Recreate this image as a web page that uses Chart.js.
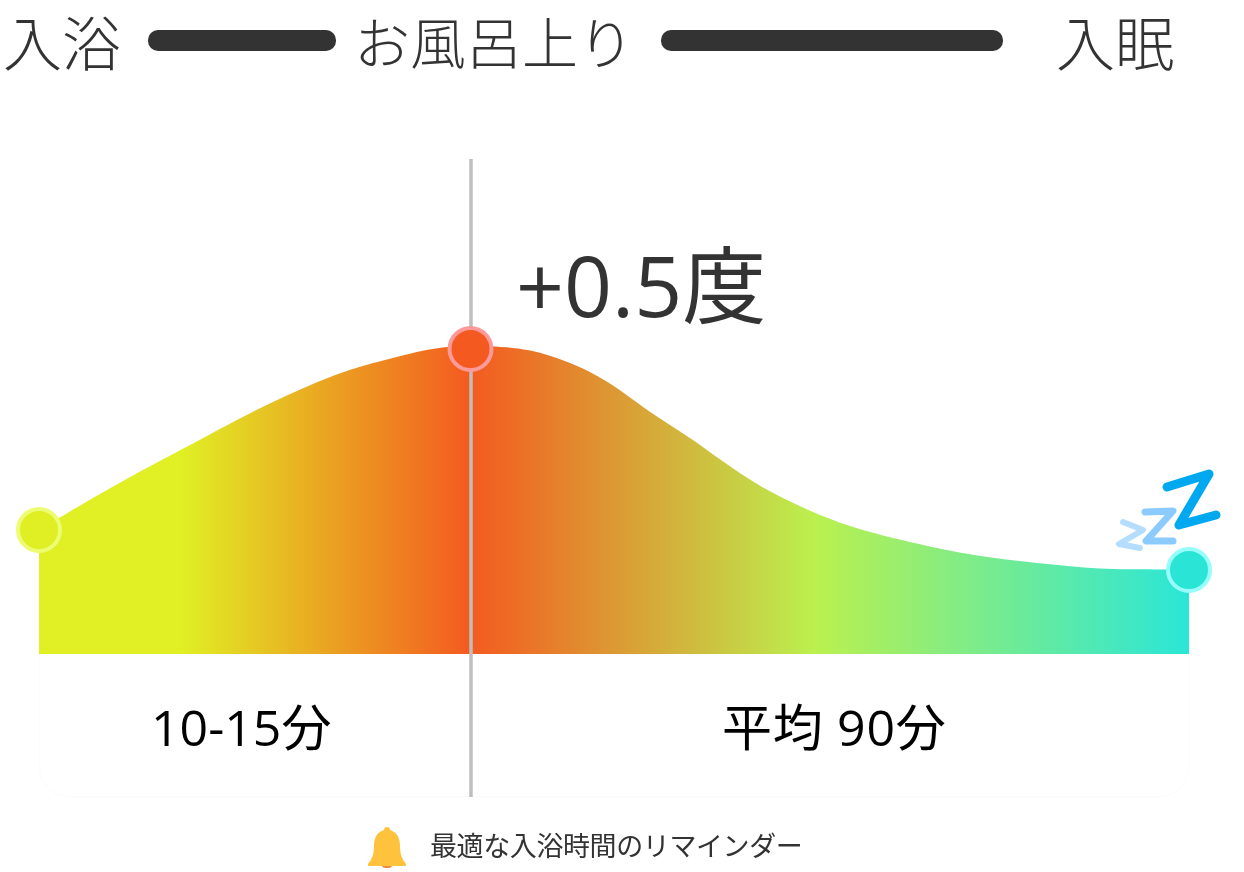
<!DOCTYPE html>
<html lang="ja">
<head>
<meta charset="utf-8">
<title>入浴と入眠</title>
<script src="https://cdn.jsdelivr.net/npm/chart.js@4/dist/chart.umd.min.js"></script>
<style>
html, body { margin: 0; padding: 0; background: #fff; }
#wrap { position: relative; width: 1244px; height: 872px; overflow: hidden; font-family: "Open Sans", "Noto Sans CJK JP", sans-serif; }
#myChart { position: absolute; left: 0; top: 0; }
.t { position: absolute; white-space: nowrap; line-height: 1; color: #333; font-weight: 400; }
.bar { position: absolute; height: 21px; top: 30px; background: #333; border-radius: 10px; }
#panel { position: absolute; left: 39px; top: 654px; width: 1148px; height: 142px; border: 1px solid #fafcfc; border-top: 0; border-radius: 0 0 30px 30px; }
svg { position: absolute; left: 0; top: 0; }
</style>
</head>
<body>
<div id="wrap">
  <div id="panel"></div>
  <canvas id="myChart" width="1244" height="872"></canvas>

  <span class="t" style="left:3px;top:14px;font-size:59px;font-weight:300">入浴</span>
  <div class="bar" style="left:148px;width:188px"></div>
  <span class="t" style="left:354px;top:14px;font-size:56px;font-weight:300">お風呂上り</span>
  <div class="bar" style="left:661px;width:342px"></div>
  <span class="t" style="left:1056px;top:14px;font-size:59px;font-weight:300">入眠</span>

  <span class="t" style="left:516px;top:243px;font-size:84px">+0.5度</span>
  <span class="t" style="left:151px;top:702px;font-size:50px;color:#000">10-15分</span>
  <span class="t" style="left:722px;top:702px;font-size:50px;letter-spacing:0.7px;color:#000">平均 90分</span>
  <span class="t" style="left:430px;top:832px;font-size:27px;letter-spacing:-0.4px">最適な入浴時間のリマインダー</span>

  <svg width="1244" height="872" fill="none" stroke-linecap="round" stroke-linejoin="round">
    <polyline points="1123,522 1143,530 1119,544 1140,548" stroke="#b5ddff" stroke-width="6"/>
    <polyline points="1145,512 1173,511 1146,541 1173,541" stroke="#8ccbff" stroke-width="7"/>
    <polyline points="1167,487 1209,474 1179,525 1216,515" stroke="#00a8f0" stroke-width="9"/>
    <path d="M387 827c2 0 3 1 3 3 7 2 10 8 10 16 0 8 2 13 6 18 0 1 0 2-1 2h-36c-1 0-1-1-1-2 4-5 6-10 6-18 0-8 3-14 10-16 0-2 1-3 3-3z" fill="#ffc23d"/>
    <path d="M382 866h10c-1 2-3 2-5 2s-4 0-5-2z" fill="#f5873c"/>
  </svg>
</div>
<script>
// curve: x position and height above the base line
var curveX = [39, 100, 175, 297, 385, 475, 570, 670, 787, 910, 1067, 1189];
var curveY = [124, 160, 201, 263, 294, 308, 291, 229, 154, 112, 88, 84];

// three dots on the curve
var dotX = [39, 470.5, 1189];
var dotY = [124, 305, 84];
var dotFill = ['#e0ee24', '#f45a20', '#2ae4d6'];
var dotRing = ['#eefc74', '#ff9a9a', '#96fdfb'];

// divider
var lineX = [471, 471];
var lineY = [495, -143];

function pts(xs, ys) {
    return xs.map(function (x, i) { return { x: x, y: ys[i] }; });
}

function areaFill(context) {
    var chart = context.chart;
    var xs = chart.scales.x;
    // scale has no size on the first pass
    if (!xs || !chart.chartArea || !isFinite(xs.getPixelForValue(39))) return '#e0ee24';
    var g = chart.ctx.createLinearGradient(xs.getPixelForValue(39), 0, xs.getPixelForValue(1189), 0);
    g.addColorStop(0, '#e0f024');
    g.addColorStop(141 / 1150, '#e0f024');
    g.addColorStop(431 / 1150, '#f45a20');
    g.addColorStop(775 / 1150, '#bbf04e');
    g.addColorStop(1, '#2ae6d8');
    return g;
}

var ctx = document.getElementById('myChart').getContext('2d');
var chart = new Chart(ctx, {
    type: 'line',
    data: {
        datasets: [{
            data: pts(curveX, curveY),
            order: 3,
            fill: 'origin',
            backgroundColor: areaFill,
            borderWidth: 0,
            pointRadius: 0,
            tension: 0.4
        }, {
            data: pts(lineX, lineY),
            order: 2,
            borderColor: '#bebebe',
            borderWidth: 3.5,
            pointRadius: 0
        }, {
            data: pts(dotX, dotY),
            order: 1,
            showLine: false,
            pointRadius: 21,
            pointBorderWidth: 4,
            pointBackgroundColor: dotFill,
            pointBorderColor: dotRing
        }]
    },
    options: {
        responsive: false,
        animation: false,
        layout: { padding: 0, autoPadding: false },
        plugins: { legend: { display: false }, tooltip: { enabled: false } },
        scales: {
            x: { type: 'linear', display: false, min: 0, max: 1244 },
            y: { type: 'linear', display: false, min: -218, max: 654 }
        }
    }
});
</script>
</body>
</html>
